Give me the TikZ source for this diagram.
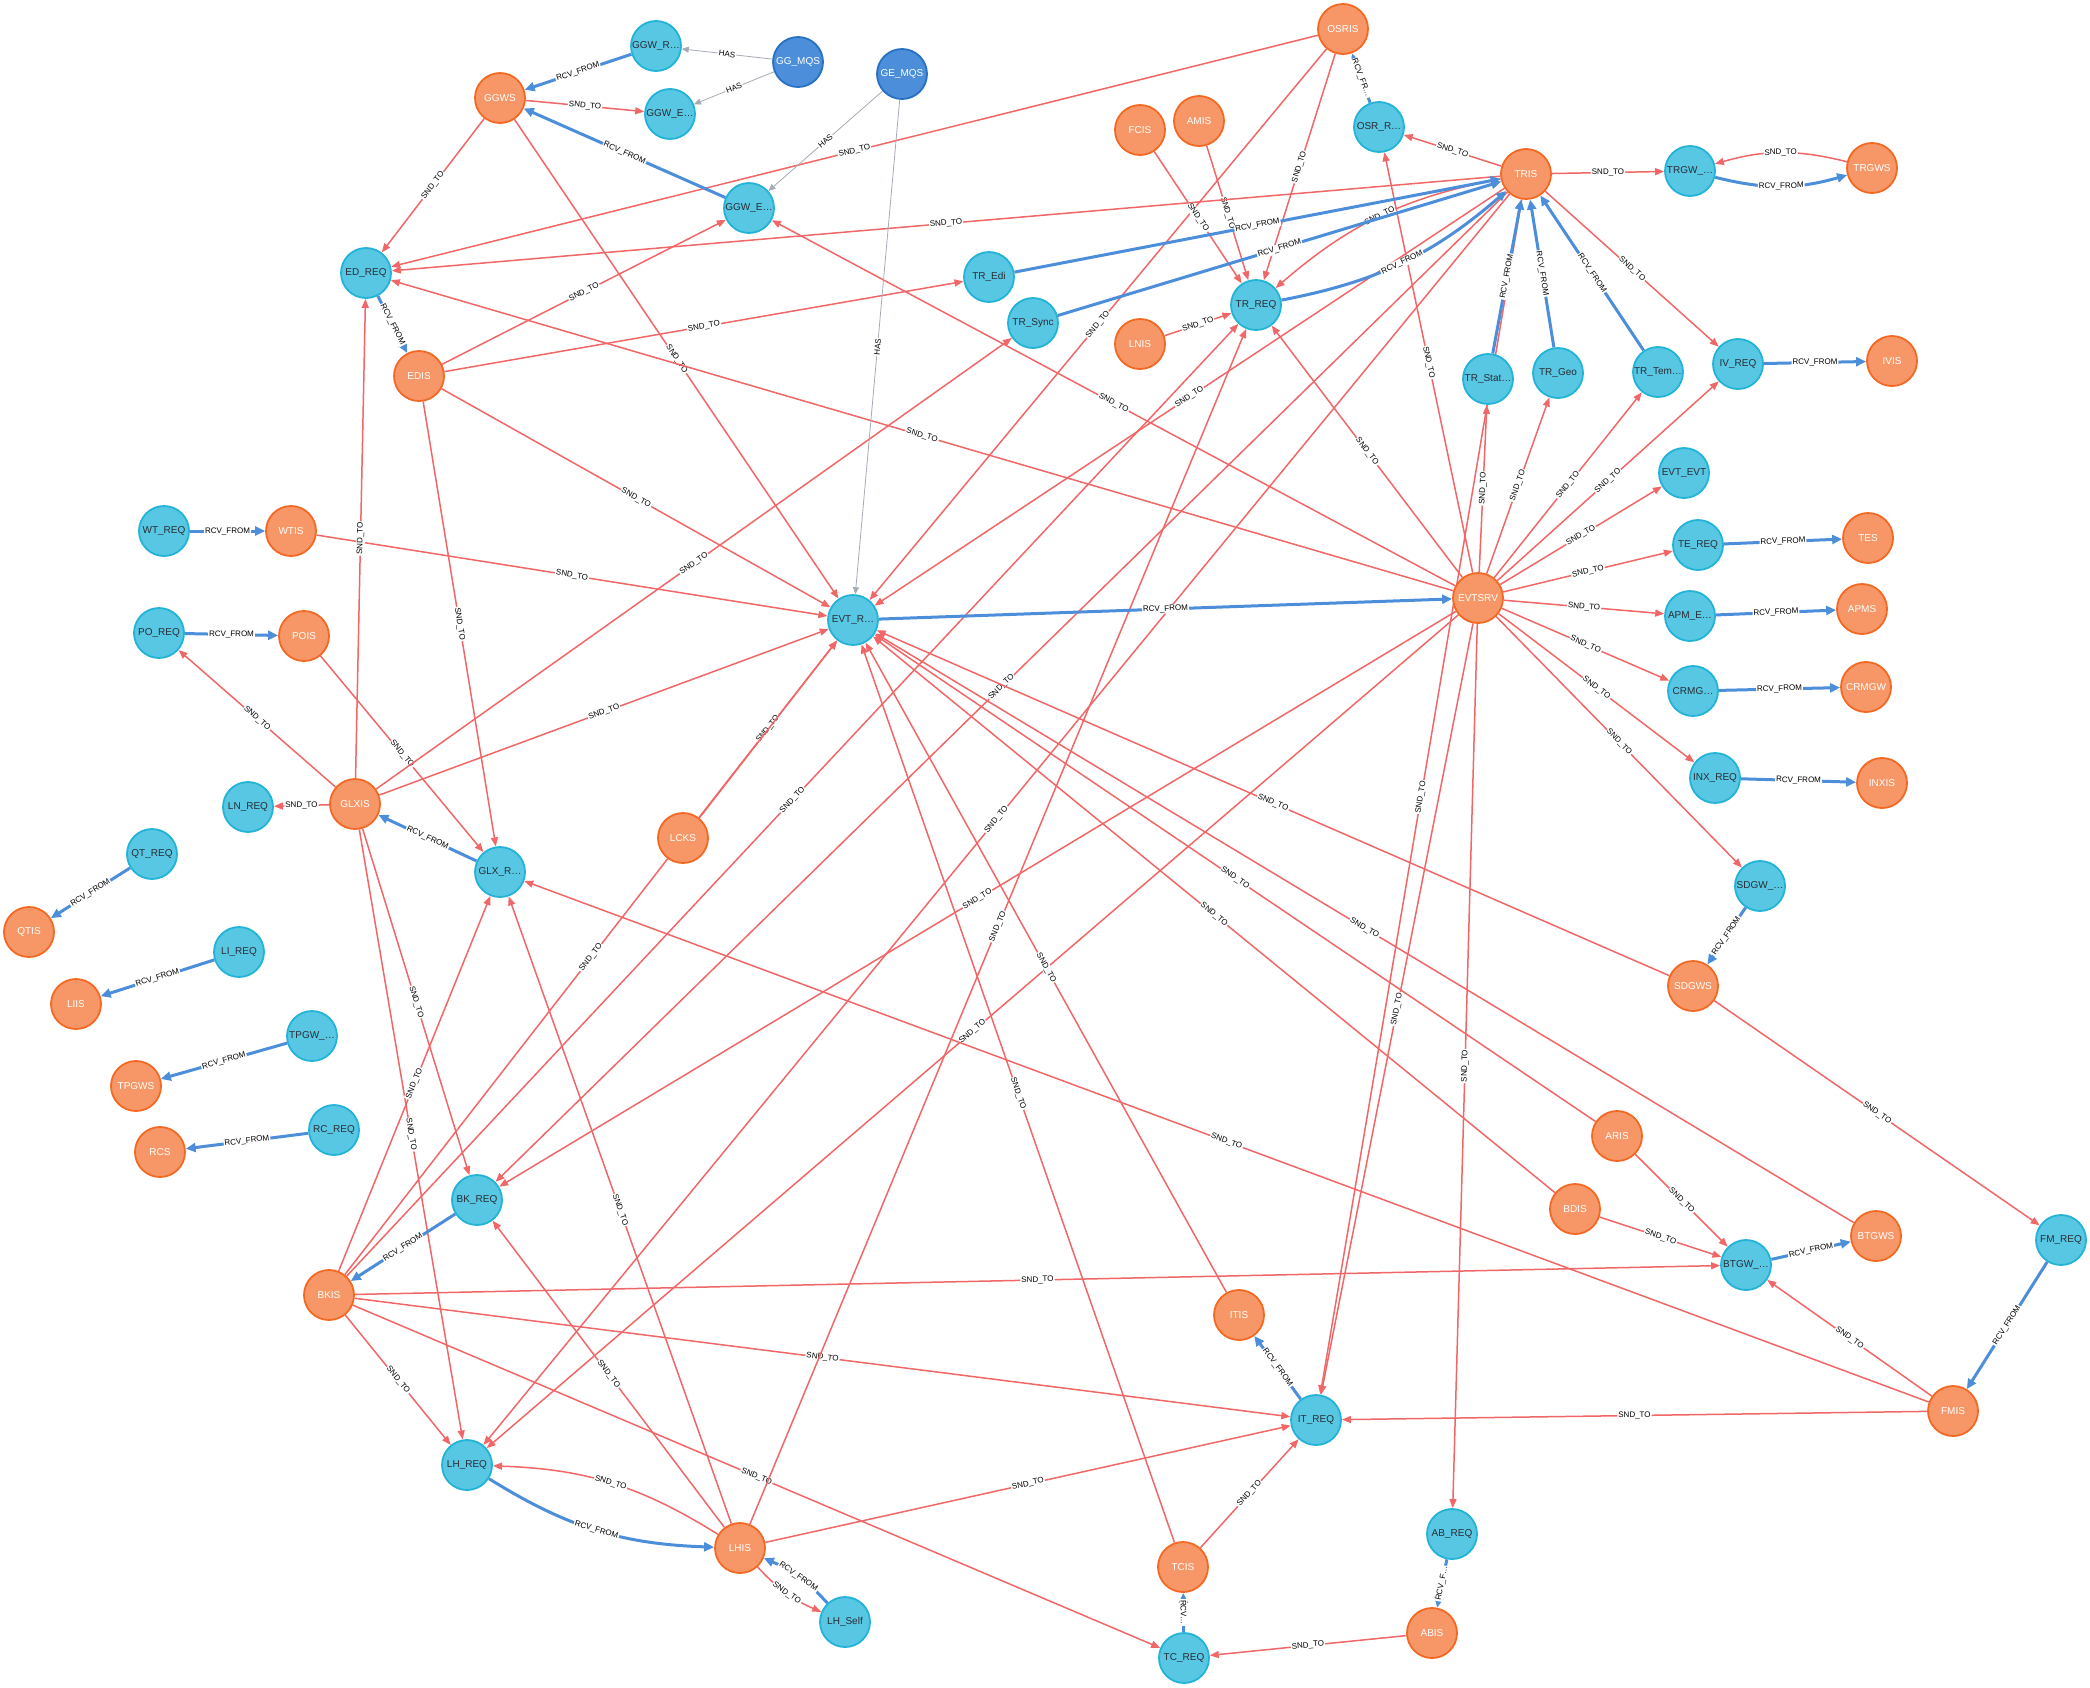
\documentclass[tikz,border=0pt]{standalone}
\usepackage{fontspec}
\setmainfont{Liberation Sans}
\usetikzlibrary{arrows.meta}
\pgfdeclarelayer{edges}
\pgfsetlayers{edges,main}
\definecolor{reqfill}{HTML}{57C7E3}
\definecolor{reqline}{HTML}{23B3D7}
\definecolor{reqtext}{HTML}{2A2C34}
\definecolor{srvfill}{HTML}{F79767}
\definecolor{srvline}{HTML}{F36924}
\definecolor{mqsfill}{HTML}{4C8EDA}
\definecolor{mqsline}{HTML}{2870C2}
\definecolor{sndred}{HTML}{F16667}
\definecolor{rcvblue}{HTML}{4C8EDA}
\definecolor{hasgray}{HTML}{A5ABB6}
\begin{document}
\begin{tikzpicture}[x=1pt,y=1pt,
	req/.style={circle,minimum size=50pt,inner sep=0pt,line width=1.8pt,fill=reqfill,draw=reqline,text=reqtext,font=\fontsize{10}{12}\selectfont},
	srv/.style={req,fill=srvfill,draw=srvline,text=white},
	mqs/.style={req,fill=mqsfill,draw=mqsline,text=white},
	snd/.style={draw=sndred,line width=1.5pt,-{Triangle[length=9pt,width=7pt]}},
	rcv/.style={draw=rcvblue,line width=3pt,-{Triangle[length=10pt,width=9pt]}},
	has/.style={draw=hasgray,line width=0.8pt,-{Triangle[length=7pt,width=6pt]}},
	lbl/.style={midway,sloped,fill=white,inner sep=1pt,text=black,font=\fontsize{8}{9}\selectfont}]
		\useasboundingbox (0,0) rectangle (2090,-1687);
		\node[req] (GGWR) at (656,-46) {GGW\_R…};
		\node[mqs] (GGMQS) at (798,-62) {GG\_MQS};
		\node[mqs] (GEMQS) at (902,-74) {GE\_MQS};
		\node[srv] (GGWS) at (500,-98) {GGWS};
		\node[req] (GGWEa) at (670,-114) {GGW\_E…};
		\node[req] (GGWEb) at (749,-208) {GGW\_E…};
		\node[srv] (OSRIS) at (1343,-29) {OSRIS};
		\node[srv] (FCIS) at (1140,-130) {FCIS};
		\node[srv] (AMIS) at (1199,-121) {AMIS};
		\node[req] (OSRR) at (1379,-127) {OSR\_R…};
		\node[srv] (TRIS) at (1526,-174) {TRIS};
		\node[req] (TRGW) at (1690,-171) {TRGW\_…};
		\node[srv] (TRGWS) at (1872,-168) {TRGWS};
		\node[req] (EDREQ) at (366,-273) {ED\_REQ};
		\node[req] (TREdi) at (989,-277) {TR\_Edi};
		\node[req] (TRREQ) at (1256,-305) {TR\_REQ};
		\node[req] (TRSync) at (1033,-323) {TR\_Sync};
		\node[srv] (LNIS) at (1140,-344) {LNIS};
		\node[srv] (EDIS) at (419,-376) {EDIS};
		\node[req] (TRStat) at (1488,-379) {TR\_Stat…};
		\node[req] (TRGeo) at (1558,-373) {TR\_Geo};
		\node[req] (TRTem) at (1658,-372) {TR\_Tem…};
		\node[req] (IVREQ) at (1738,-364) {IV\_REQ};
		\node[srv] (IVIS) at (1892,-361) {IVIS};
		\node[req] (EVTEVT) at (1684,-473) {EVT\_EVT};
		\node[req] (WTREQ) at (164,-531) {WT\_REQ};
		\node[srv] (WTIS) at (291,-531) {WTIS};
		\node[req] (TEREQ) at (1698,-545) {TE\_REQ};
		\node[srv] (TES) at (1868,-538) {TES};
		\node[srv] (EVTSRV) at (1478,-598) {EVTSRV};
		\node[req] (EVTR) at (853,-620) {EVT\_R…};
		\node[req] (APME) at (1690,-616) {APM\_E…};
		\node[srv] (APMS) at (1862,-609) {APMS};
		\node[req] (POREQ) at (159,-633) {PO\_REQ};
		\node[srv] (POIS) at (304,-636) {POIS};
		\node[req] (CRMG) at (1693,-691) {CRMG…};
		\node[srv] (CRMGW) at (1866,-687) {CRMGW};
		\node[req] (INXREQ) at (1715,-778) {INX\_REQ};
		\node[srv] (INXIS) at (1882,-783) {INXIS};
		\node[req] (LNREQ) at (248,-807) {LN\_REQ};
		\node[srv] (GLXIS) at (355,-804) {GLXIS};
		\node[srv] (LCKS) at (683,-838) {LCKS};
		\node[req] (QTREQ) at (152,-854) {QT\_REQ};
		\node[req] (GLXR) at (500,-872) {GLX\_R…};
		\node[req] (SDGW) at (1760,-886) {SDGW\_…};
		\node[srv] (QTIS) at (29,-932) {QTIS};
		\node[req] (LIREQ) at (239,-952) {LI\_REQ};
		\node[srv] (SDGWS) at (1693,-986) {SDGWS};
		\node[srv] (LIIS) at (76,-1004) {LIIS};
		\node[req] (TPGW) at (312,-1036) {TPGW\_…};
		\node[srv] (TPGWS) at (136,-1086) {TPGWS};
		\node[req] (RCREQ) at (334,-1130) {RC\_REQ};
		\node[srv] (ARIS) at (1617,-1136) {ARIS};
		\node[srv] (RCS) at (160,-1152) {RCS};
		\node[req] (BKREQ) at (477,-1200) {BK\_REQ};
		\node[srv] (BDIS) at (1575,-1209) {BDIS};
		\node[srv] (BTGWS) at (1876,-1236) {BTGWS};
		\node[req] (FMREQ) at (2061,-1240) {FM\_REQ};
		\node[req] (BTGW) at (1746,-1265) {BTGW\_…};
		\node[srv] (BKIS) at (329,-1295) {BKIS};
		\node[srv] (ITIS) at (1239,-1315) {ITIS};
		\node[srv] (FMIS) at (1953,-1411) {FMIS};
		\node[req] (ITREQ) at (1316,-1420) {IT\_REQ};
		\node[req] (LHREQ) at (467,-1465) {LH\_REQ};
		\node[req] (ABREQ) at (1452,-1534) {AB\_REQ};
		\node[srv] (LHIS) at (740,-1548) {LHIS};
		\node[srv] (TCIS) at (1183,-1567) {TCIS};
		\node[req] (LHSelf) at (845,-1622) {LH\_Self};
		\node[srv] (ABIS) at (1432,-1633) {ABIS};
		\node[req] (TCREQ) at (1184,-1658) {TC\_REQ};
		\begin{pgfonlayer}{edges}
		\foreach \a/\b in {GGWS/GGWEa,GGWS/EDREQ,GGWS/EVTR,OSRIS/EDREQ,OSRIS/EVTR,OSRIS/TRREQ,TRIS/OSRR,EVTSRV/OSRR,FCIS/TRREQ,AMIS/TRREQ,LNIS/TRREQ,TRIS/TRGW,TRIS/EDREQ,TRIS/EVTR,TRIS/IVREQ,TRIS/BKREQ,TRIS/LHREQ,TRIS/ITREQ,EDIS/GGWEb,EDIS/TREdi,EDIS/EVTR,EDIS/GLXR,EVTSRV/EDREQ,EVTSRV/GGWEb,EVTSRV/TRREQ,EVTSRV/TRStat,EVTSRV/TRGeo,EVTSRV/TRTem,EVTSRV/IVREQ,EVTSRV/EVTEVT,EVTSRV/TEREQ,EVTSRV/APME,EVTSRV/CRMG,EVTSRV/INXREQ,EVTSRV/SDGW,EVTSRV/ITREQ,EVTSRV/ABREQ,EVTSRV/LHREQ,EVTSRV/BKREQ,WTIS/EVTR,POIS/GLXR,GLXIS/POREQ,GLXIS/LNREQ,GLXIS/EDREQ,GLXIS/EVTR,GLXIS/TRSync,GLXIS/BKREQ,GLXIS/LHREQ,LCKS/EVTR,BKIS/EVTR,BKIS/TRREQ,BKIS/GLXR,BKIS/BTGW,BKIS/ITREQ,BKIS/LHREQ,BKIS/TCREQ,LHIS/GLXR,LHIS/BKREQ,LHIS/ITREQ,LHIS/TRREQ,TCIS/EVTR,TCIS/ITREQ,ABIS/TCREQ,ITIS/EVTR,FMIS/ITREQ,FMIS/BTGW,FMIS/GLXR,SDGWS/FMREQ,SDGWS/EVTR,ARIS/EVTR,ARIS/BTGW,BDIS/EVTR,BDIS/BTGW,BTGWS/EVTR}
			\draw[snd] (\a) -- node[lbl]{SND\_TO} (\b);
		\draw[snd] (TRIS) to[bend right=15] node[lbl]{SND\_TO} (TRREQ);
		\draw[snd] (TRGWS) to[bend right=15] node[lbl]{SND\_TO} (TRGW);
		\draw[snd] (LHIS) to[bend right=15] node[lbl]{SND\_TO} (LHREQ);
		\draw[snd] (LHIS) to[bend right=12] node[lbl]{SND\_TO} (LHSelf);
		\foreach \a/\b in {GGWR/GGWS,GGWEb/GGWS,TREdi/TRIS,TRSync/TRIS,TRStat/TRIS,TRGeo/TRIS,TRTem/TRIS,IVREQ/IVIS,EDREQ/EDIS,WTREQ/WTIS,POREQ/POIS,TEREQ/TES,EVTR/EVTSRV,APME/APMS,CRMG/CRMGW,INXREQ/INXIS,SDGW/SDGWS,GLXR/GLXIS,QTREQ/QTIS,LIREQ/LIIS,TPGW/TPGWS,RCREQ/RCS,BKREQ/BKIS,BTGW/BTGWS,FMREQ/FMIS,ITREQ/ITIS}
			\draw[rcv] (\a) -- node[lbl]{RCV\_FROM} (\b);
		\draw[rcv] (OSRR) -- node[lbl]{RCV\_FR…} (OSRIS);
		\draw[rcv] (TCREQ) -- node[lbl]{RCV…} (TCIS);
		\draw[rcv] (ABREQ) -- node[lbl]{RCV\_F…} (ABIS);
		\draw[rcv] (TRREQ) to[bend right=15] node[lbl]{RCV\_FROM} (TRIS);
		\draw[rcv] (TRGW) to[bend right=15] node[lbl]{RCV\_FROM} (TRGWS);
		\draw[rcv] (LHREQ) to[bend right=15] node[lbl]{RCV\_FROM} (LHIS);
		\draw[rcv] (LHSelf) to[bend right=12] node[lbl]{RCV\_FROM} (LHIS);
		\draw[has] (GGMQS) -- node[lbl]{HAS} (GGWR);
		\draw[has] (GGMQS) -- node[lbl]{HAS} (GGWEa);
		\draw[has] (GEMQS) -- node[lbl]{HAS} (GGWEb);
		\draw[has] (GEMQS) -- node[lbl]{HAS} (EVTR);
		\end{pgfonlayer}
	\end{tikzpicture}
\end{document}
